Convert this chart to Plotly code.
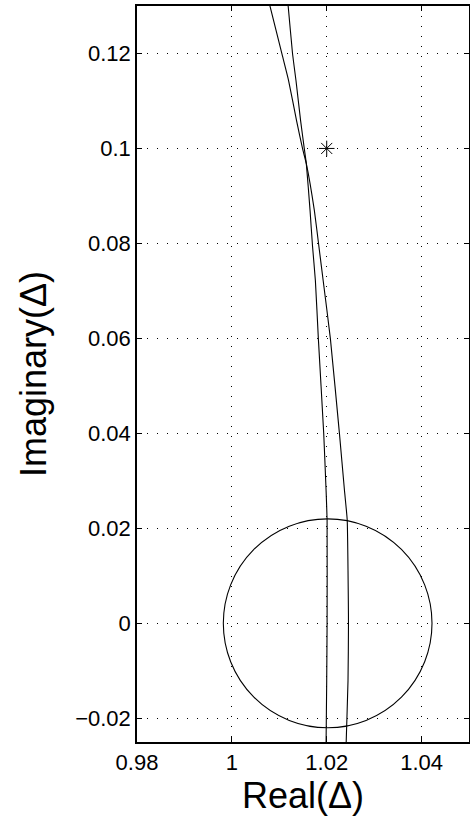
import plotly.graph_objects as go

# Curve A (steeper at top, ends on the right at the bottom)
curve_a_x = [1.00680, 1.00808, 1.01056, 1.01196, 1.01365, 1.01492, 1.01570, 1.01740,
             1.01846, 1.01925, 1.02078, 1.02269, 1.02375, 1.02432, 1.02459, 1.02449,
             1.02411, 1.02402]
curve_a_y = [0.1350, 0.1298, 0.1199, 0.1143, 0.1058, 0.0999, 0.0968, 0.0869,
             0.0785, 0.0722, 0.0599, 0.0399, 0.0279, 0.0218, 0.0000, -0.0121,
             -0.0249, -0.0300]

# Curve B (flatter at top, ends on the left at the bottom)
curve_b_x = [1.01137, 1.01189, 1.01280, 1.01352, 1.01450, 1.01528, 1.01570, 1.01649,
             1.01700, 1.01761, 1.01824, 1.01937, 1.01987, 1.02008, 1.02008, 1.02000,
             1.01987, 1.01985]
curve_b_y = [0.1350, 0.1298, 0.1199, 0.1143, 0.1058, 0.0999, 0.0968, 0.0869,
             0.0795, 0.0722, 0.0599, 0.0399, 0.0279, 0.0218, 0.0000, -0.0121,
             -0.0249, -0.0300]

# Circle (centre and radius)
circle_cx = 1.0202
circle_cy = 0.0
circle_r = 0.022

# Star marker
star_x = [1.02]
star_y = [0.10]

x_ticks = [0.98, 1.00, 1.02, 1.04]
x_labels = ["0.98", "1", "1.02", "1.04"]
y_ticks = [-0.02, 0.0, 0.02, 0.04, 0.06, 0.08, 0.10, 0.12]
y_labels = ["\u22120.02", "0", "0.02", "0.04", "0.06", "0.08", "0.1", "0.12"]

x_range = [0.98, 1.05]
y_range = [-0.025, 0.13]

FONT = "Liberation Sans, Arial, Helvetica, sans-serif"

fig = go.Figure()
for cx, cy in ((curve_a_x, curve_a_y), (curve_b_x, curve_b_y)):
    fig.add_trace(go.Scatter(x=cx, y=cy, mode="lines",
                             line=dict(color="black", width=1.1, shape="spline", smoothing=0.4),
                             showlegend=False, hoverinfo="skip"))
fig.add_trace(go.Scatter(x=star_x, y=star_y, mode="markers",
                         marker=dict(symbol="asterisk-open", size=13, color="black",
                                     line=dict(color="black", width=1)),
                         showlegend=False, hoverinfo="skip"))

fig.add_shape(type="circle", xref="x", yref="y",
              x0=circle_cx - circle_r, x1=circle_cx + circle_r,
              y0=circle_cy - circle_r, y1=circle_cy + circle_r,
              line=dict(color="black", width=1.1), layer="above")

axis_common = dict(
    showline=True, linecolor="black", linewidth=1.5, mirror="ticks",
    ticks="inside", ticklen=5, tickwidth=1, tickcolor="black",
    showgrid=True, gridcolor="black", gridwidth=1, griddash="1px,9px",
    zeroline=False, tickfont=dict(family=FONT, size=22, color="black"),
)

fig.update_xaxes(range=x_range, tickvals=x_ticks, ticktext=x_labels,
                 title=dict(text="Real(\u0394)", font=dict(family=FONT, size=36, color="black"),
                            standoff=4),
                 **axis_common)
fig.update_yaxes(range=y_range, tickvals=y_ticks, ticktext=y_labels,
                 title=dict(text="Imaginary(\u0394)", font=dict(family=FONT, size=36, color="black"),
                            standoff=18),
                 **axis_common)

fig.update_layout(
    width=470, height=817,
    margin=dict(l=137, r=1, t=6, b=75, autoexpand=False),
    paper_bgcolor="white", plot_bgcolor="white",
    font=dict(family=FONT, color="black"),
)

fig.write_html(
    "out.html",
    config={"displayModeBar": False},
    post_script="document.body.style.margin='0';document.body.style.overflow='hidden';",
)
